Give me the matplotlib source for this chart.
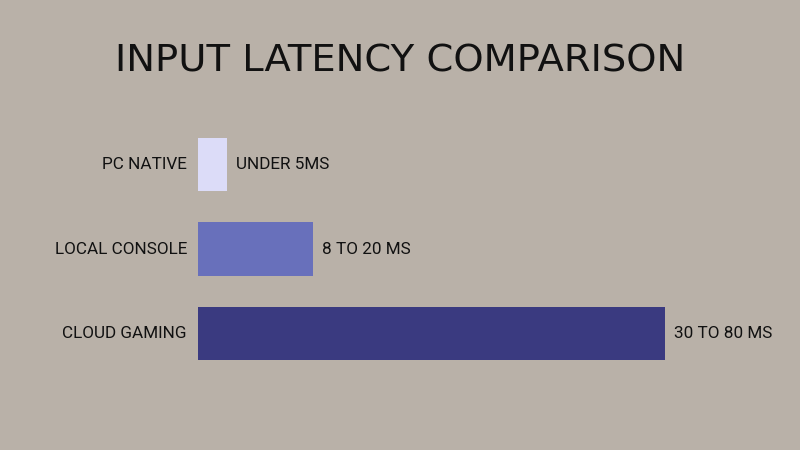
import matplotlib.pyplot as plt

categories = ["PC NATIVE", "LOCAL CONSOLE", "CLOUD GAMING"]
latency_ms = [5, 19.7, 80]
value_labels = ["UNDER 5MS", "8 TO 20 MS", "30 TO 80 MS"]
colors = ["#dcdcf8", "#6870bb", "#3a3a80"]

bg = "#b9b1a8"
fig = plt.figure(figsize=(8, 4.5), dpi=100, facecolor=bg)
ax = fig.add_axes([0.2475, 0.165, 0.58375, 0.5633])
ax.set_facecolor(bg)

ypos = list(range(len(categories)))
ax.barh(ypos, latency_ms, height=0.63, color=colors)
ax.set_xlim(0, 80)
ax.set_ylim(2.5, -0.5)

for y, v, name, lab in zip(ypos, latency_ms, categories, value_labels):
    ax.annotate(name, (0, y), xytext=(-11, 0), textcoords="offset pixels",
                ha="right", va="center", fontsize=12.3, family="Roboto",
                color="#111111", annotation_clip=False)
    ax.annotate(lab, (v, y), xytext=(9, 0), textcoords="offset pixels",
                ha="left", va="center", fontsize=12.3, family="Roboto",
                color="#111111", annotation_clip=False)

ax.axis("off")

fig.text(0.5, 1 - 61 / 450, "INPUT LATENCY COMPARISON", ha="center", va="center",
         fontsize=27.7, family="DejaVu Sans", color="#111111")

fig.savefig("out.png", dpi=100, facecolor=bg)
